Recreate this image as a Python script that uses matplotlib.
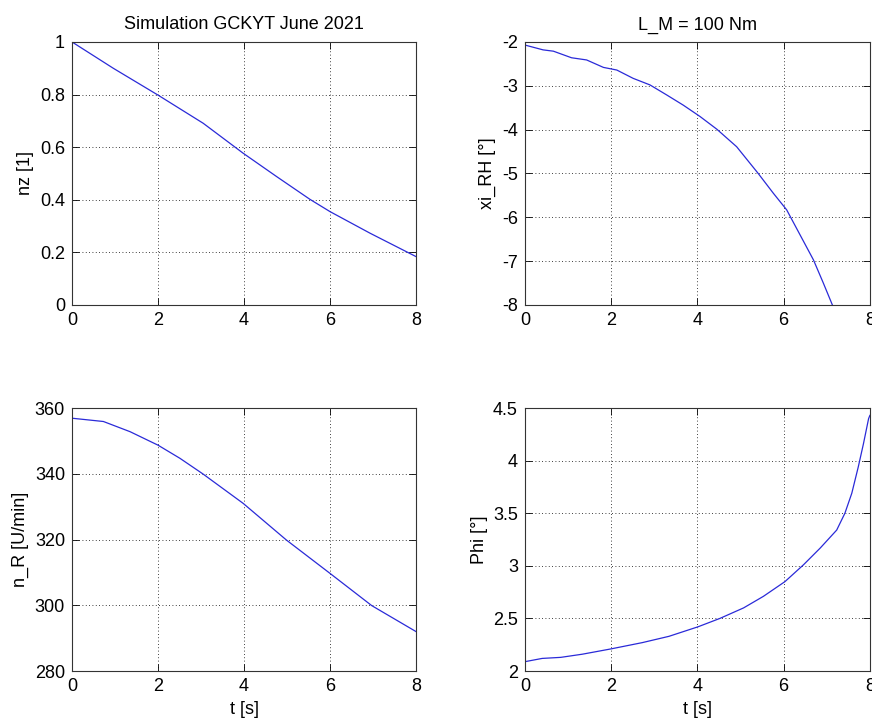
import matplotlib
matplotlib.use("Agg")
import matplotlib.pyplot as plt

plt.rcParams["font.family"] = ["Liberation Sans", "DejaVu Sans"]
plt.rcParams["axes.unicode_minus"] = False

# samples
t_nz = [0, 0.96, 2.0, 3.05, 3.98, 4.76, 5.53, 6.0, 6.93, 8.0]
nz = [1.0, 0.90, 0.798, 0.691, 0.577, 0.488, 0.402, 0.355, 0.273, 0.184]

t_nR = [0, 0.73, 1.35, 2.0, 2.51, 3.05, 3.98, 4.99, 6.0, 6.97, 8.0]
n_R = [356.9, 355.9, 352.8, 348.7, 344.7, 339.9, 331.0, 319.8, 309.7, 299.9, 292.0]

t_xi = [0, 0.42, 0.66, 1.08, 1.43, 1.82, 2.13, 2.51, 2.9, 3.29, 3.67, 4.06,
        4.45, 4.91, 5.41, 5.76, 6.07, 6.38, 6.69, 6.92, 7.13]
xi_RH = [-2.07, -2.18, -2.21, -2.36, -2.41, -2.58, -2.64, -2.83, -2.98, -3.21,
         -3.44, -3.70, -3.99, -4.39, -5.0, -5.45, -5.83, -6.40, -6.97, -7.50, -8.0]

t_phi = [0, 0.4, 0.83, 1.33, 1.99, 2.72, 3.34, 4.01, 4.52, 5.07, 5.53, 6.03,
         6.46, 6.85, 7.23, 7.42, 7.58, 7.73, 7.85, 7.97, 8.0]
phi = [2.089, 2.12, 2.13, 2.16, 2.21, 2.27, 2.33, 2.42, 2.50, 2.60, 2.71, 2.85,
       3.01, 3.17, 3.34, 3.50, 3.69, 3.94, 4.16, 4.40, 4.43]

x_ticks = [0, 2, 4, 6, 8]
x_labels = ["0", "2", "4", "6", "8"]

nz_ticks = [0, 0.2, 0.4, 0.6, 0.8, 1.0]
nz_labels = ["0", "0.2", "0.4", "0.6", "0.8", "1"]
xi_ticks = [-8, -7, -6, -5, -4, -3, -2]
xi_labels = ["-8", "-7", "-6", "-5", "-4", "-3", "-2"]
nR_ticks = [280, 300, 320, 340, 360]
nR_labels = ["280", "300", "320", "340", "360"]
phi_ticks = [2, 2.5, 3, 3.5, 4, 4.5]
phi_labels = ["2", "2.5", "3", "3.5", "4", "4.5"]

fig = plt.figure(figsize=(8.72, 7.2), dpi=100)

def make_axes(rect, t, y, yticks, ylabels, ylabel, title=None, xlabel=None):
    ax = fig.add_axes(rect)
    ax.plot(t, y, color="#2a2ad8", linewidth=0.9)
    ax.set_xlim(0, 8)
    ax.set_ylim(yticks[0], yticks[-1])
    ax.set_xticks(x_ticks)
    ax.set_xticklabels(x_labels)
    ax.set_yticks(yticks)
    ax.set_yticklabels(ylabels)
    ax.grid(True, color="black", linestyle=(0, (1, 3)), linewidth=0.6)
    ax.tick_params(direction="in", length=5, width=0.6, top=True, right=True,
                   labelsize=13, colors="black")
    ax.tick_params(axis="x", pad=5)
    ax.tick_params(axis="y", pad=5)
    for s in ax.spines.values():
        s.set_linewidth(0.8)
        s.set_color("#333333")
    ax.set_ylabel(ylabel, fontsize=13, labelpad=4)
    if title:
        ax.set_title(title, fontsize=13, pad=9)
    if xlabel:
        ax.set_xlabel(xlabel, fontsize=13, labelpad=4)
    return ax

make_axes([0.0826, 0.5764, 0.3945, 0.3653], t_nz, nz, nz_ticks, nz_labels,
          "nz [1]", title="Simulation GCKYT June 2021")
make_axes([0.602, 0.5764, 0.3956, 0.3653], t_xi, xi_RH, xi_ticks, xi_labels,
          "xi_RH [°]", title="L_M = 100 Nm")
make_axes([0.0826, 0.068, 0.3945, 0.3653], t_nR, n_R, nR_ticks, nR_labels,
          "n_R [U/min]", xlabel="t [s]")
make_axes([0.602, 0.068, 0.3956, 0.3653], t_phi, phi, phi_ticks, phi_labels,
          "Phi [°]", xlabel="t [s]")

fig.savefig("out.png", dpi=100)
